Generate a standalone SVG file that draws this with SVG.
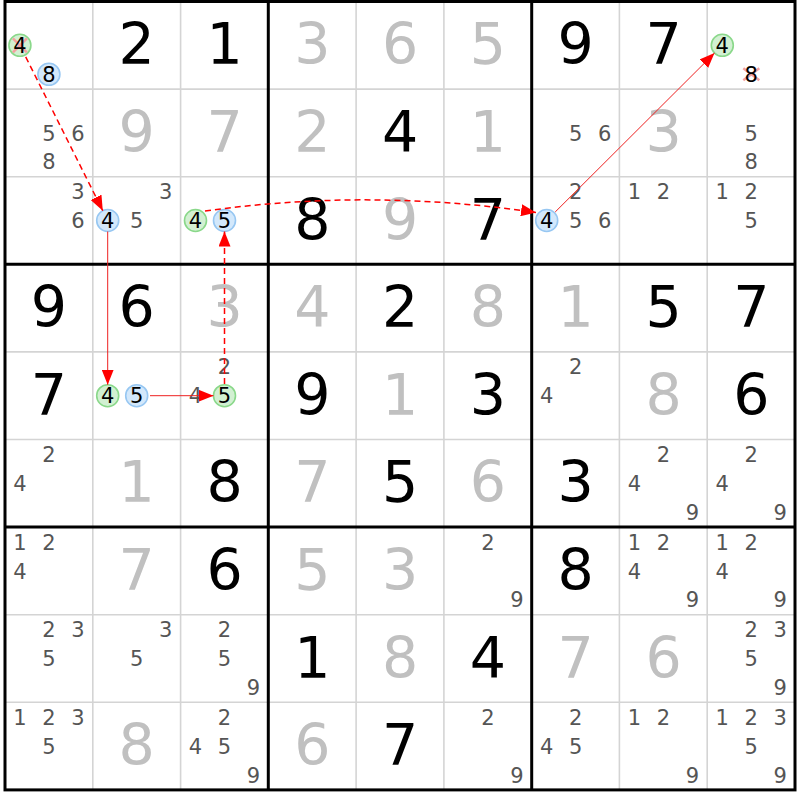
<svg xmlns="http://www.w3.org/2000/svg" width="800" height="800" viewBox="0 0 800 800">
<defs>
<style>
.g{font-family:"DejaVu Sans","Liberation Sans",sans-serif;font-size:57px;text-anchor:middle;fill:#000}
.s{font-family:"DejaVu Sans","Liberation Sans",sans-serif;font-size:57px;text-anchor:middle;fill:#c0c0c0}
.c{font-family:"DejaVu Sans","Liberation Sans",sans-serif;font-size:21px;text-anchor:middle;fill:#555}
.k{font-family:"DejaVu Sans","Liberation Sans",sans-serif;font-size:21px;text-anchor:middle;fill:#000}
.cb{fill:#d3e8fb;stroke:#97c7f2;stroke-width:1.6}
.cg{fill:#d2f0d2;stroke:#8ad88a;stroke-width:1.6}
.x{stroke:#f4a0a0;stroke-width:2.5}
.thin{stroke:#d4d4d4;stroke-width:1.6}
.thick{stroke:#000;stroke-width:3}
.dash{fill:none;stroke:#ff0000;stroke-width:1.5;stroke-dasharray:6,4}
.sol{fill:none;stroke:#ee2020;stroke-width:1}
</style>
<marker id="ah" markerUnits="userSpaceOnUse" markerWidth="16" markerHeight="12" refX="15" refY="6" orient="auto">
<path d="M0,0 L15,6 L0,12 z" fill="#ff0000"/>
</marker>
</defs>
<rect x="0" y="0" width="800" height="800" fill="#fff"/>
<g id="grid">
<g class="thin">
<line x1="92.8" y1="1.5" x2="92.8" y2="789.9"/><line x1="180.6" y1="1.5" x2="180.6" y2="789.9"/>
<line x1="356.1" y1="1.5" x2="356.1" y2="789.9"/><line x1="443.9" y1="1.5" x2="443.9" y2="789.9"/>
<line x1="619.4" y1="1.5" x2="619.4" y2="789.9"/><line x1="707.2" y1="1.5" x2="707.2" y2="789.9"/>
<line x1="5" y1="89.1" x2="795" y2="89.1"/><line x1="5" y1="176.7" x2="795" y2="176.7"/>
<line x1="5" y1="351.9" x2="795" y2="351.9"/><line x1="5" y1="439.5" x2="795" y2="439.5"/>
<line x1="5" y1="614.7" x2="795" y2="614.7"/><line x1="5" y1="702.3" x2="795" y2="702.3"/>
</g>
<g class="thick">
<line x1="268.3" y1="1.5" x2="268.3" y2="789.9"/><line x1="531.7" y1="1.5" x2="531.7" y2="789.9"/>
<line x1="5" y1="264.3" x2="795" y2="264.3"/><line x1="5" y1="527.1" x2="795" y2="527.1"/>
<rect x="5" y="1.5" width="790" height="788.4" fill="none"/>
</g>
</g>
<g id="cells">
<!-- row 0 -->
<g id="r0c0" transform="translate(48.9,45.3)"><circle class="cg" cx="-29" cy="0" r="11"/><line class="x" x1="-36" y1="-7" x2="-22" y2="7"/><line class="x" x1="-36" y1="7" x2="-22" y2="-7"/><text class="k" x="-29" y="7.6">4</text><circle class="cb" cx="0" cy="29" r="11"/><text class="k" x="0" y="36.6">8</text></g>
<g id="r0c1" transform="translate(136.7,45.3)"><text class="g" x="0" y="19">2</text></g>
<g id="r0c2" transform="translate(224.5,45.3)"><text class="g" x="0" y="19">1</text></g>
<g id="r0c3" transform="translate(312.3,45.3)"><text class="s" x="0" y="19">3</text></g>
<g id="r0c4" transform="translate(400.1,45.3)"><text class="s" x="0" y="19">6</text></g>
<g id="r0c5" transform="translate(487.9,45.3)"><text class="s" x="0" y="19">5</text></g>
<g id="r0c6" transform="translate(575.7,45.3)"><text class="g" x="0" y="19">9</text></g>
<g id="r0c7" transform="translate(663.5,45.3)"><text class="g" x="0" y="19">7</text></g>
<g id="r0c8" transform="translate(751.3,45.3)"><circle class="cg" cx="-29" cy="0" r="11"/><text class="k" x="-29" y="7.6">4</text><line class="x" x1="-8" y1="23" x2="8" y2="35"/><line class="x" x1="-8" y1="35" x2="8" y2="23"/><text class="k" x="0" y="36.6">8</text></g>
<!-- row 1 -->
<g id="r1c0" transform="translate(48.9,132.9)"><text class="c" x="0" y="7.6">5</text><text class="c" x="29" y="7.6">6</text><text class="c" x="0" y="36.6">8</text></g>
<g id="r1c1" transform="translate(136.7,132.9)"><text class="s" x="0" y="19">9</text></g>
<g id="r1c2" transform="translate(224.5,132.9)"><text class="s" x="0" y="19">7</text></g>
<g id="r1c3" transform="translate(312.3,132.9)"><text class="s" x="0" y="19">2</text></g>
<g id="r1c4" transform="translate(400.1,132.9)"><text class="g" x="0" y="19">4</text></g>
<g id="r1c5" transform="translate(487.9,132.9)"><text class="s" x="0" y="19">1</text></g>
<g id="r1c6" transform="translate(575.7,132.9)"><text class="c" x="0" y="7.6">5</text><text class="c" x="29" y="7.6">6</text></g>
<g id="r1c7" transform="translate(663.5,132.9)"><text class="s" x="0" y="19">3</text></g>
<g id="r1c8" transform="translate(751.3,132.9)"><text class="c" x="0" y="7.6">5</text><text class="c" x="0" y="36.6">8</text></g>
<!-- row 2 -->
<g id="r2c0" transform="translate(48.9,220.5)"><text class="c" x="29" y="-21.4">3</text><text class="c" x="29" y="7.6">6</text></g>
<g id="r2c1" transform="translate(136.7,220.5)"><text class="c" x="29" y="-21.4">3</text><circle class="cb" cx="-29" cy="0" r="11"/><text class="k" x="-29" y="7.6">4</text><text class="c" x="0" y="7.6">5</text></g>
<g id="r2c2" transform="translate(224.5,220.5)"><circle class="cg" cx="-29" cy="0" r="11"/><text class="k" x="-29" y="7.6">4</text><circle class="cb" cx="0" cy="0" r="11"/><text class="k" x="0" y="7.6">5</text></g>
<g id="r2c3" transform="translate(312.3,220.5)"><text class="g" x="0" y="19">8</text></g>
<g id="r2c4" transform="translate(400.1,220.5)"><text class="s" x="0" y="19">9</text></g>
<g id="r2c5" transform="translate(487.9,220.5)"><text class="g" x="0" y="19">7</text></g>
<g id="r2c6" transform="translate(575.7,220.5)"><text class="c" x="0" y="-21.4">2</text><circle class="cb" cx="-29" cy="0" r="11"/><text class="k" x="-29" y="7.6">4</text><text class="c" x="0" y="7.6">5</text><text class="c" x="29" y="7.6">6</text></g>
<g id="r2c7" transform="translate(663.5,220.5)"><text class="c" x="-29" y="-21.4">1</text><text class="c" x="0" y="-21.4">2</text></g>
<g id="r2c8" transform="translate(751.3,220.5)"><text class="c" x="-29" y="-21.4">1</text><text class="c" x="0" y="-21.4">2</text><text class="c" x="0" y="7.6">5</text></g>
<!-- row 3 -->
<g id="r3c0" transform="translate(48.9,308.1)"><text class="g" x="0" y="19">9</text></g>
<g id="r3c1" transform="translate(136.7,308.1)"><text class="g" x="0" y="19">6</text></g>
<g id="r3c2" transform="translate(224.5,308.1)"><text class="s" x="0" y="19">3</text></g>
<g id="r3c3" transform="translate(312.3,308.1)"><text class="s" x="0" y="19">4</text></g>
<g id="r3c4" transform="translate(400.1,308.1)"><text class="g" x="0" y="19">2</text></g>
<g id="r3c5" transform="translate(487.9,308.1)"><text class="s" x="0" y="19">8</text></g>
<g id="r3c6" transform="translate(575.7,308.1)"><text class="s" x="0" y="19">1</text></g>
<g id="r3c7" transform="translate(663.5,308.1)"><text class="g" x="0" y="19">5</text></g>
<g id="r3c8" transform="translate(751.3,308.1)"><text class="g" x="0" y="19">7</text></g>
<!-- row 4 -->
<g id="r4c0" transform="translate(48.9,395.7)"><text class="g" x="0" y="19">7</text></g>
<g id="r4c1" transform="translate(136.7,395.7)"><circle class="cg" cx="-29" cy="0" r="11"/><text class="k" x="-29" y="7.6">4</text><circle class="cb" cx="0" cy="0" r="11"/><text class="k" x="0" y="7.6">5</text></g>
<g id="r4c2" transform="translate(224.5,395.7)"><text class="c" x="0" y="-21.4">2</text><text class="c" x="-29" y="7.6">4</text><circle class="cg" cx="0" cy="0" r="11"/><text class="k" x="0" y="7.6">5</text></g>
<g id="r4c3" transform="translate(312.3,395.7)"><text class="g" x="0" y="19">9</text></g>
<g id="r4c4" transform="translate(400.1,395.7)"><text class="s" x="0" y="19">1</text></g>
<g id="r4c5" transform="translate(487.9,395.7)"><text class="g" x="0" y="19">3</text></g>
<g id="r4c6" transform="translate(575.7,395.7)"><text class="c" x="0" y="-21.4">2</text><text class="c" x="-29" y="7.6">4</text></g>
<g id="r4c7" transform="translate(663.5,395.7)"><text class="s" x="0" y="19">8</text></g>
<g id="r4c8" transform="translate(751.3,395.7)"><text class="g" x="0" y="19">6</text></g>
<!-- row 5 -->
<g id="r5c0" transform="translate(48.9,483.3)"><text class="c" x="0" y="-21.4">2</text><text class="c" x="-29" y="7.6">4</text></g>
<g id="r5c1" transform="translate(136.7,483.3)"><text class="s" x="0" y="19">1</text></g>
<g id="r5c2" transform="translate(224.5,483.3)"><text class="g" x="0" y="19">8</text></g>
<g id="r5c3" transform="translate(312.3,483.3)"><text class="s" x="0" y="19">7</text></g>
<g id="r5c4" transform="translate(400.1,483.3)"><text class="g" x="0" y="19">5</text></g>
<g id="r5c5" transform="translate(487.9,483.3)"><text class="s" x="0" y="19">6</text></g>
<g id="r5c6" transform="translate(575.7,483.3)"><text class="g" x="0" y="19">3</text></g>
<g id="r5c7" transform="translate(663.5,483.3)"><text class="c" x="0" y="-21.4">2</text><text class="c" x="-29" y="7.6">4</text><text class="c" x="29" y="36.6">9</text></g>
<g id="r5c8" transform="translate(751.3,483.3)"><text class="c" x="0" y="-21.4">2</text><text class="c" x="-29" y="7.6">4</text><text class="c" x="29" y="36.6">9</text></g>
<!-- row 6 -->
<g id="r6c0" transform="translate(48.9,570.9)"><text class="c" x="-29" y="-21.4">1</text><text class="c" x="0" y="-21.4">2</text><text class="c" x="-29" y="7.6">4</text></g>
<g id="r6c1" transform="translate(136.7,570.9)"><text class="s" x="0" y="19">7</text></g>
<g id="r6c2" transform="translate(224.5,570.9)"><text class="g" x="0" y="19">6</text></g>
<g id="r6c3" transform="translate(312.3,570.9)"><text class="s" x="0" y="19">5</text></g>
<g id="r6c4" transform="translate(400.1,570.9)"><text class="s" x="0" y="19">3</text></g>
<g id="r6c5" transform="translate(487.9,570.9)"><text class="c" x="0" y="-21.4">2</text><text class="c" x="29" y="36.6">9</text></g>
<g id="r6c6" transform="translate(575.7,570.9)"><text class="g" x="0" y="19">8</text></g>
<g id="r6c7" transform="translate(663.5,570.9)"><text class="c" x="-29" y="-21.4">1</text><text class="c" x="0" y="-21.4">2</text><text class="c" x="-29" y="7.6">4</text><text class="c" x="29" y="36.6">9</text></g>
<g id="r6c8" transform="translate(751.3,570.9)"><text class="c" x="-29" y="-21.4">1</text><text class="c" x="0" y="-21.4">2</text><text class="c" x="-29" y="7.6">4</text><text class="c" x="29" y="36.6">9</text></g>
<!-- row 7 -->
<g id="r7c0" transform="translate(48.9,658.5)"><text class="c" x="0" y="-21.4">2</text><text class="c" x="29" y="-21.4">3</text><text class="c" x="0" y="7.6">5</text></g>
<g id="r7c1" transform="translate(136.7,658.5)"><text class="c" x="29" y="-21.4">3</text><text class="c" x="0" y="7.6">5</text></g>
<g id="r7c2" transform="translate(224.5,658.5)"><text class="c" x="0" y="-21.4">2</text><text class="c" x="0" y="7.6">5</text><text class="c" x="29" y="36.6">9</text></g>
<g id="r7c3" transform="translate(312.3,658.5)"><text class="g" x="0" y="19">1</text></g>
<g id="r7c4" transform="translate(400.1,658.5)"><text class="s" x="0" y="19">8</text></g>
<g id="r7c5" transform="translate(487.9,658.5)"><text class="g" x="0" y="19">4</text></g>
<g id="r7c6" transform="translate(575.7,658.5)"><text class="s" x="0" y="19">7</text></g>
<g id="r7c7" transform="translate(663.5,658.5)"><text class="s" x="0" y="19">6</text></g>
<g id="r7c8" transform="translate(751.3,658.5)"><text class="c" x="0" y="-21.4">2</text><text class="c" x="29" y="-21.4">3</text><text class="c" x="0" y="7.6">5</text><text class="c" x="29" y="36.6">9</text></g>
<!-- row 8 -->
<g id="r8c0" transform="translate(48.9,746.1)"><text class="c" x="-29" y="-21.4">1</text><text class="c" x="0" y="-21.4">2</text><text class="c" x="29" y="-21.4">3</text><text class="c" x="0" y="7.6">5</text></g>
<g id="r8c1" transform="translate(136.7,746.1)"><text class="s" x="0" y="19">8</text></g>
<g id="r8c2" transform="translate(224.5,746.1)"><text class="c" x="0" y="-21.4">2</text><text class="c" x="-29" y="7.6">4</text><text class="c" x="0" y="7.6">5</text><text class="c" x="29" y="36.6">9</text></g>
<g id="r8c3" transform="translate(312.3,746.1)"><text class="s" x="0" y="19">6</text></g>
<g id="r8c4" transform="translate(400.1,746.1)"><text class="g" x="0" y="19">7</text></g>
<g id="r8c5" transform="translate(487.9,746.1)"><text class="c" x="0" y="-21.4">2</text><text class="c" x="29" y="36.6">9</text></g>
<g id="r8c6" transform="translate(575.7,746.1)"><text class="c" x="0" y="-21.4">2</text><text class="c" x="-29" y="7.6">4</text><text class="c" x="0" y="7.6">5</text></g>
<g id="r8c7" transform="translate(663.5,746.1)"><text class="c" x="-29" y="-21.4">1</text><text class="c" x="0" y="-21.4">2</text><text class="c" x="29" y="36.6">9</text></g>
<g id="r8c8" transform="translate(751.3,746.1)"><text class="c" x="-29" y="-21.4">1</text><text class="c" x="0" y="-21.4">2</text><text class="c" x="29" y="-21.4">3</text><text class="c" x="0" y="7.6">5</text><text class="c" x="29" y="36.6">9</text></g>
</g>
<g id="connectors">
<path class="dash" d="M25.7,56.9 L102.8,210.7" marker-end="url(#ah)"/>
<path class="sol" d="M107.7,231.5 L107.7,384.7" stroke="#f06060" stroke-width="1.5" marker-end="url(#ah)"/>
<path class="sol" d="M150,395.7 L213.5,395.7" marker-end="url(#ah)"/>
<path class="dash" d="M224.5,384 L224.5,231.5" marker-end="url(#ah)"/>
<path class="dash" d="M205,211 Q370,188 536,212.5" marker-end="url(#ah)"/>
<path class="sol" d="M555.2,212 L714.5,53.1" marker-end="url(#ah)"/>
</g>
</svg>
